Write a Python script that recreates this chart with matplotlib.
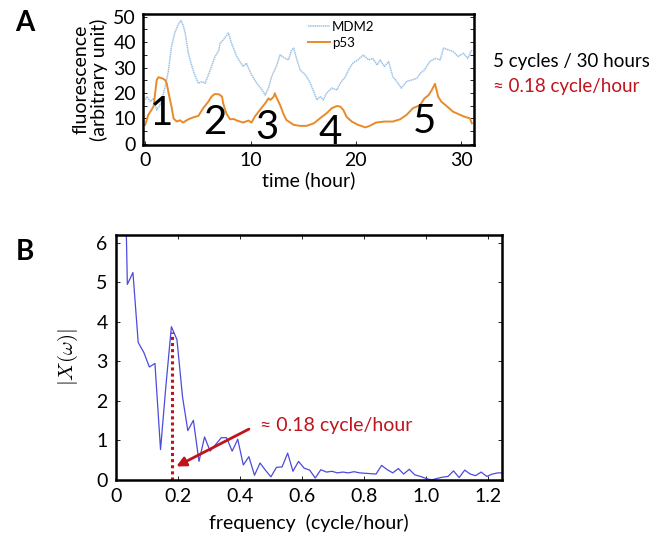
import matplotlib
matplotlib.use("Agg")
import matplotlib.pyplot as plt
from matplotlib.ticker import MultipleLocator

plt.rcParams['font.family'] = ['Lato', 'DejaVu Sans']
plt.rcParams['mathtext.fontset'] = 'cm'

# --- Panel A data: time courses --- #
time_p53 = [0.0, 0.3, 0.8, 1.1, 1.26, 1.6, 1.9, 2.05, 2.2, 2.5, 2.7, 3.0, 3.3, 3.6, 4.1, 4.6,
            5.05, 5.5, 6.0, 6.3, 6.6, 7.0, 7.3, 7.4, 7.7, 8.05, 8.4, 8.7, 9.3, 9.8, 10.1, 10.4,
            10.9, 11.4, 11.7, 11.9, 12.2, 12.3, 12.5, 12.8, 13.1, 13.4, 14.1, 14.7, 15.3, 16.0,
            16.6, 17.2, 17.7, 18.2, 18.5, 18.8, 19.1, 19.6, 20.2, 20.9, 21.3, 21.9, 22.7, 23.5,
            24.2, 24.8, 25.4, 26.1, 26.5, 26.9, 27.2, 27.5, 27.6, 27.8, 28.1, 28.6, 29.2, 29.9,
            30.3, 30.8, 31.0]
p53 = [7.5, 11.4, 14.7, 25.1, 26.2, 25.8, 25.1, 23.8, 20.5, 14.7, 10.0, 8.8, 9.3, 8.4, 9.7, 10.5,
       11.0, 14.0, 16.6, 18.6, 19.6, 19.5, 18.6, 16.0, 12.0, 9.7, 9.8, 9.2, 8.4, 9.2, 8.4, 10.7,
       13.4, 16.0, 17.9, 17.3, 18.6, 19.9, 17.9, 15.3, 12.0, 9.4, 7.5, 7.1, 7.1, 8.1,
       10.1, 12.0, 14.0, 14.9, 14.7, 13.4, 10.7, 8.8, 7.5, 6.5, 7.1, 8.4, 8.8, 8.8,
       9.7, 11.4, 14.0, 15.3, 17.9, 19.2, 21.2, 23.6, 21.9, 18.6, 16.6, 14.9, 12.7, 11.4,
       10.7, 10.1, 8.1]

time_mdm2 = [0.0, 0.16, 0.5, 0.8, 1.1, 1.5, 1.9, 2.2, 2.5, 2.8, 3.2, 3.4, 3.6, 3.8, 4.1, 4.4,
             4.7, 5.05, 5.4, 5.7, 6.0, 6.3, 6.6, 7.0, 7.1, 7.4, 7.9, 8.2, 8.7, 9.0, 9.3, 9.6,
             10.1, 10.6, 11.1, 11.4, 11.7, 12.0, 12.5, 12.8, 13.3, 13.6, 13.9, 14.1, 14.4, 14.7,
             15.2, 15.6, 16.0, 16.3, 16.6, 16.9, 17.2, 17.7, 18.2, 18.5, 19.0, 19.3, 19.7, 20.2,
             20.7, 21.2, 21.6, 22.0, 22.3, 22.7, 23.1, 23.5, 24.0, 24.3, 24.8, 25.3, 25.8, 26.1,
             26.5, 27.0, 27.5, 28.0, 28.3, 28.8, 29.2, 29.7, 30.2, 30.6, 31.0]
mdm2 = [17.3, 18.6, 16.6, 17.9, 13.3, 16.0, 22.5, 28.4, 38.2, 43.5, 47.4, 48.4, 46.7, 43.5, 35.6, 31.0,
        27.1, 23.8, 24.5, 23.8, 27.1, 30.4, 34.0, 36.9, 39.5, 40.8, 43.5, 39.5, 34.3, 32.3, 30.4, 31.7,
        27.1, 23.8, 21.2, 19.2, 21.9, 26.4, 31.0, 34.9, 33.6, 33.0, 36.9, 37.6, 33.0, 29.1,
        27.1, 24.5, 20.5, 17.3, 18.6, 17.3, 19.9, 21.9, 21.2, 23.8, 26.4, 29.1, 31.7, 33.0,
        34.9, 33.0, 33.6, 31.0, 33.0, 30.4, 32.3, 26.4, 23.8, 21.9, 24.5, 25.1, 25.8, 27.7,
        29.1, 32.3, 33.6, 33.0, 37.6, 36.9, 36.3, 34.3, 35.6, 33.6, 36.9]

cycle_labels = ["1", "2", "3", "4", "5"]
cycle_t = [1.5, 6.6, 11.6, 17.6, 26.5]
cycle_v = [12.0, 8.3, 6.4, 4.5, 8.7]

# --- Panel B data: spectrum --- #
freq = [0.019, 0.037, 0.055, 0.072, 0.090, 0.108, 0.126, 0.144, 0.161, 0.179, 0.197, 0.215,
        0.232, 0.250, 0.268, 0.286, 0.304, 0.322, 0.340, 0.357, 0.375, 0.393, 0.411, 0.429,
        0.447, 0.465, 0.482, 0.500, 0.518, 0.536, 0.554, 0.571, 0.589, 0.607, 0.625, 0.643,
        0.661, 0.679, 0.697, 0.714, 0.732, 0.750, 0.768, 0.786, 0.804, 0.821, 0.839, 0.857,
        0.875, 0.893, 0.911, 0.928, 0.946, 0.964, 0.982, 1.000, 1.018, 1.036, 1.053, 1.071,
        1.089, 1.107, 1.125, 1.143, 1.160, 1.178, 1.196, 1.214, 1.232, 1.250]
magnitude = [12.0, 4.95, 5.25, 3.48, 3.23, 2.86, 2.95, 0.77, 2.35, 3.88, 3.55, 2.1,
             1.25, 1.51, 0.47, 1.09, 0.73, 0.9, 1.07, 1.07, 0.73, 1.03, 0.38, 0.59,
             0.12, 0.43, 0.25, 0.08, 0.32, 0.33, 0.68, 0.22, 0.47, 0.30, 0.25, 0.05,
             0.26, 0.20, 0.22, 0.18, 0.20, 0.18, 0.21, 0.18, 0.17, 0.16, 0.15, 0.37,
             0.26, 0.18, 0.29, 0.15, 0.27, 0.13, 0.09, 0.04, 0.0, 0.04, 0.07, 0.09,
             0.23, 0.06, 0.25, 0.15, 0.11, 0.20, 0.09, 0.15, 0.18, 0.18]
peak_freq = 0.18
peak_mag = 3.75

red = '#c0141c'

fig = plt.figure(figsize=(6.51, 5.39), dpi=100)

# --- Panel A --- #
axA = fig.add_axes([0.2197, 0.731, 0.5084, 0.243])
axA.plot(time_mdm2, mdm2, color='#9dc3e6', lw=1.1, linestyle=(0, (1, 0.4)), label='MDM2')
axA.plot(time_p53, p53, color='#e98a2a', lw=1.4, label='p53')
for lab, t, v in zip(cycle_labels, cycle_t, cycle_v):
    axA.text(t, v, lab, fontsize=29, ha='center', va='center')
axA.set_xlim(-0.2, 31.2)
axA.set_ylim(-0.4, 51)
axA.set_yticks([0, 10, 20, 30, 40, 50])
axA.set_xticks([0, 10, 20, 30])
axA.yaxis.set_minor_locator(MultipleLocator(5))
axA.tick_params(direction='in', labelsize=14, right=True, which='both', length=3, width=0.6,
                pad=5)
for s in axA.spines.values():
    s.set_linewidth(1.8)
axA.set_xlabel('time (hour)', fontsize=14, labelpad=2)
axA.set_ylabel('fluorescence\n(arbitrary unit)', fontsize=14, labelpad=4, linespacing=1.0)
axA.legend(loc='upper center', bbox_to_anchor=(0.6, 1.04), frameon=False, fontsize=9.5,
           handlelength=1.6, handletextpad=0.2, labelspacing=0.3)

fig.text(0.757, 0.885, '5 cycles / 30 hours', fontsize=13.5, va='center')
fig.text(0.757, 0.839, '\u2248 0.18 cycle/hour', fontsize=13.5, va='center', color=red)

# --- Panel B --- #
axB = fig.add_axes([0.178, 0.1095, 0.593, 0.4545])
axB.plot(freq, magnitude, color='#4b4bdc', lw=0.9)
axB.plot([peak_freq, peak_freq], [0, peak_mag], color=red, lw=2.2, linestyle=(0, (1, 1)))
axB.annotate('', xy=(0.187, 0.31), xytext=(0.437, 1.32),
             arrowprops=dict(arrowstyle='-|>', color=red, lw=2, mutation_scale=14))
axB.text(0.464, 1.39, '\u2248 0.18 cycle/hour', fontsize=14, color=red, va='center')
axB.set_xlim(0, 1.245)
axB.set_ylim(0, 6.2)
axB.set_xticks([0, 0.2, 0.4, 0.6, 0.8, 1.0, 1.2])
axB.set_xticklabels(['0', '0.2', '0.4', '0.6', '0.8', '1.0', '1.2'])
axB.set_yticks([0, 1, 2, 3, 4, 5, 6])
axB.tick_params(direction='in', labelsize=14, right=True, top=True, length=3, width=0.6, pad=6)
for s in axB.spines.values():
    s.set_linewidth(1.8)
axB.set_xlabel('frequency  (cycle/hour)', fontsize=14, labelpad=6)
axB.set_ylabel(r'$|X(\omega)|$', fontsize=15, labelpad=12)

fig.text(0.038, 0.958, 'A', fontsize=20, fontweight='bold', va='center', ha='center')
fig.text(0.038, 0.532, 'B', fontsize=20, fontweight='bold', va='center', ha='center')

plt.savefig('out.png', dpi=100)
